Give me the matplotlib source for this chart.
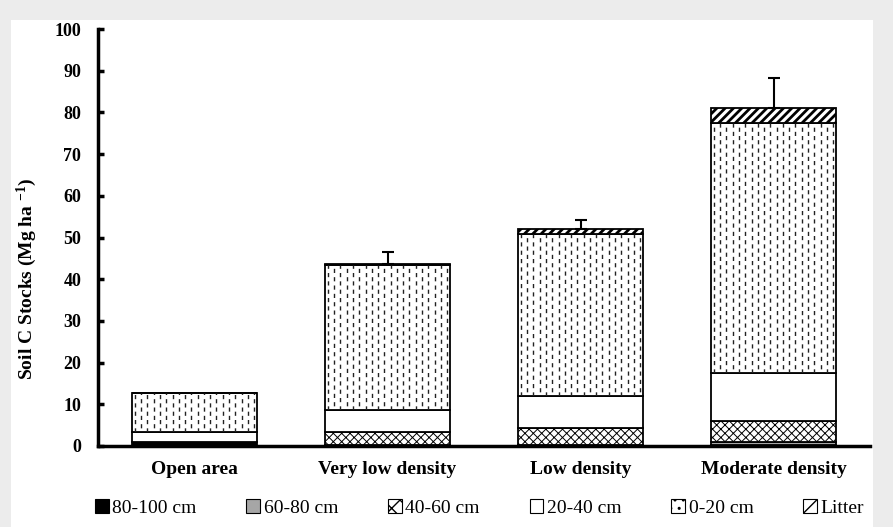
import numpy as np
import matplotlib
matplotlib.use("Agg")
import matplotlib.pyplot as plt
from matplotlib.patches import Rectangle, Patch

plt.rcParams['font.family'] = ['Liberation Serif', 'DejaVu Serif']
plt.rcParams['mathtext.fontset'] = 'custom'
plt.rcParams['mathtext.rm'] = 'Liberation Serif:bold'
plt.rcParams['mathtext.bf'] = 'Liberation Serif:bold'
plt.rcParams['mathtext.default'] = 'bf'

categories = ["Open area", "Very low density", "Low density", "Moderate density"]
layers = ["80-100 cm", "60-80 cm", "40-60 cm", "20-40 cm", "0-20 cm", "Litter"]
# stocks per layer, bottom to top (Mg ha-1)
d80_100 = [1.0, 0.2, 0.2, 0.3]
d60_80 = [0.0, 0.1, 0.1, 0.6]
d40_60 = [0.0, 3.0, 4.0, 5.2]
d20_40 = [2.3, 5.3, 7.7, 11.4]
d0_20 = [9.4, 34.7, 38.8, 59.9]
litter = [0.0, 0.3, 1.2, 3.7]
err_up = [0.0, 3.0, 2.3, 7.1]

series = [d80_100, d60_80, d40_60, d20_40, d0_20, litter]
styles = [
    dict(facecolor="black", hatch=None, hlw=1.0),
    dict(facecolor="#a6a6a6", hatch=None, hlw=1.0),
    dict(facecolor="white", hatch="xxxx", hlw=0.7),
    dict(facecolor="white", hatch=None, hlw=1.0),
    dict(facecolor="white", hatch=None, hlw=1.0),   # dashed texture added below
    dict(facecolor="white", hatch="////", hlw=2.0),
]

fig = plt.figure(figsize=(8.93, 5.27), dpi=100)
fig.patch.set_facecolor("#ececec")
fig.add_artist(Rectangle((11 / 893, 0), 862 / 893, 1 - 20 / 527,
                         transform=fig.transFigure, facecolor="white",
                         edgecolor="none", zorder=-10))

ax = fig.add_axes([98 / 893, 1 - 446 / 527, (870 - 98) / 893, (446 - 29) / 527])
ax.set_facecolor("none")

x = np.arange(len(categories))
width = 0.65
bottom = np.zeros(len(categories))
for k, (vals, st) in enumerate(zip(series, styles)):
    vals = np.array(vals)
    with plt.rc_context({'hatch.linewidth': st["hlw"]}):
        bars = ax.bar(x, vals, width, bottom=bottom, facecolor=st["facecolor"],
                      hatch=st["hatch"], edgecolor="black", linewidth=1.3, zorder=2)
    for b in bars:
        if hasattr(b, "set_hatch_linewidth"):
            b.set_hatch_linewidth(st["hlw"])
    if k == 4:
        # dashed vertical texture for 0-20 cm layer
        for b, v, b0 in zip(bars, vals, bottom):
            step = width / 20
            xs = np.arange(b.get_x() + step / 2, b.get_x() + width, step)
            for i, xx in enumerate(xs):
                ln = ax.plot([xx, xx], [b0, b0 + v], color="#222222", lw=1.0,
                             linestyle=(3 * (i % 2), (3, 3)), zorder=3)[0]
                ln.set_clip_path(b)
    bottom = bottom + vals

mask = np.array(err_up) > 0
ax.errorbar(x[mask], bottom[mask], yerr=[np.zeros(mask.sum()), np.array(err_up)[mask]],
            fmt="none", ecolor="black", elinewidth=1.5, capsize=4, capthick=1.5, zorder=4)

ax.set_xlim(-0.5, 3.5)
ax.set_ylim(0, 100)
ax.set_yticks(np.arange(0, 101, 10))
ax.set_xticks(x)
ax.set_xticklabels(categories, fontsize=14, fontweight="bold")
ax.tick_params(axis="x", length=0, pad=11)
ax.tick_params(axis="y", direction="in", length=4, width=2.5, labelsize=13, pad=12)
for lab in ax.get_yticklabels():
    lab.set_fontweight("bold")
for s in ["top", "right"]:
    ax.spines[s].set_visible(False)
for s in ["left", "bottom"]:
    ax.spines[s].set_linewidth(2.5)
ax.set_ylabel("Soil C Stocks (Mg ha $^{-1}$)", fontsize=14, fontweight="bold")
ax.yaxis.set_label_coords(-0.077, 0.40)

handles = []
for st in styles:
    with plt.rc_context({'hatch.linewidth': min(st["hlw"], 1.2)}):
        handles.append(Patch(facecolor=st["facecolor"], hatch=st["hatch"] and st["hatch"][:2],
                             edgecolor="black", linewidth=0.8))
handles[4] = Patch(facecolor="white", hatch="..", edgecolor="black", linewidth=0.8)
fig.legend(handles, layers, loc="center", bbox_to_anchor=(0.537, 0.036), ncol=6,
           frameon=False, fontsize=14, handlelength=0.7, handleheight=0.7,
           handletextpad=0.2, columnspacing=2.55)

fig.savefig("out.png", dpi=100, facecolor=fig.get_facecolor())
